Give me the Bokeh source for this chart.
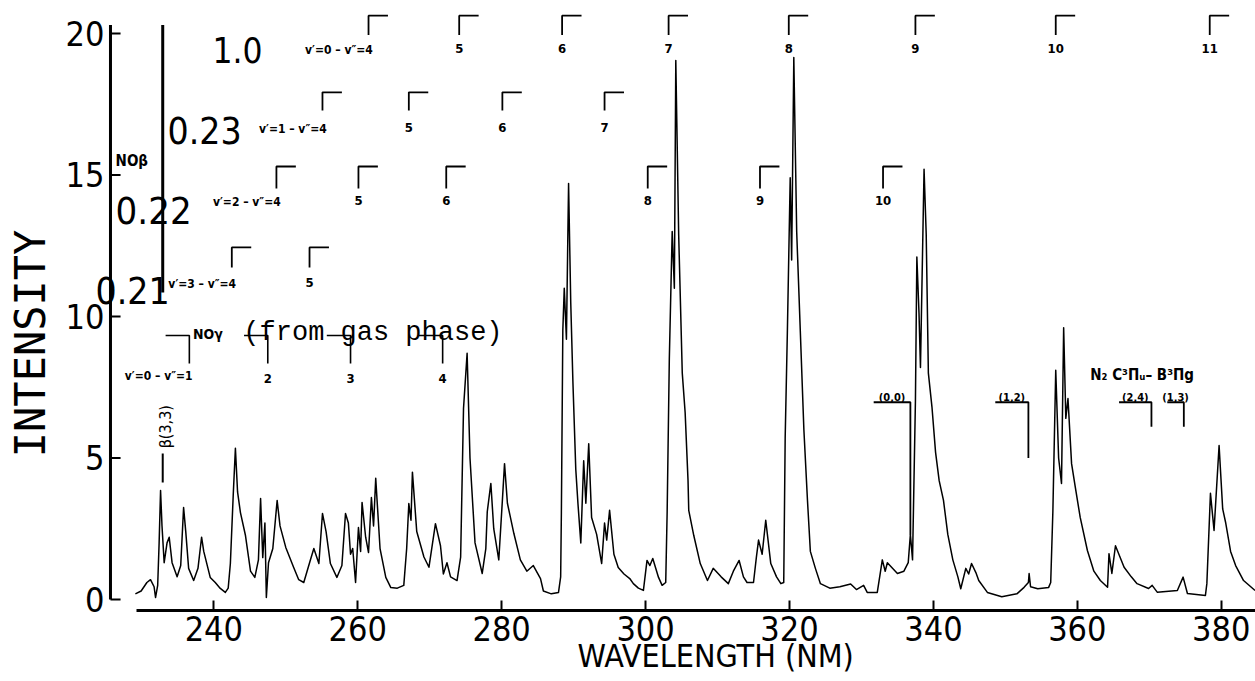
import math
from bokeh.plotting import figure
from bokeh.models import Label, FixedTicker, Range1d
from bokeh.embed import file_html
from bokeh.resources import INLINE

# ---------------- data ----------------
wavelength = [
    229.1, 229.9, 230.7, 231.2, 231.7, 231.9, 232.2, 232.4, 232.6, 232.8, 233.1, 233.5, 233.8, 234.2,
    234.9, 235.4, 235.8, 236.1, 236.5, 237.2, 237.8, 238.3, 238.6, 239.5, 240.2, 240.9, 241.6, 242.0,
    242.3, 242.7, 243.0, 243.3, 243.7, 244.4, 245.1, 245.7, 246.2, 246.5, 246.8, 247.1, 247.3, 247.6,
    248.2, 248.8, 249.2, 250.0, 251.1, 251.8, 252.5, 253.4, 253.9, 254.6, 255.1, 255.6, 256.2, 257.1,
    257.8, 258.3, 258.7, 259.0, 259.3, 259.7, 260.1, 260.4, 260.6, 261.1, 261.5, 261.9, 262.2, 262.5,
    263.1, 263.9, 264.6, 265.5, 266.4, 266.8, 267.1, 267.4, 267.6, 268.2, 269.2, 269.9, 270.8, 271.5,
    271.9, 272.4, 272.9, 273.8, 274.3, 274.7, 275.2, 275.6, 276.3, 277.3, 277.8, 278.0, 278.5, 278.9,
    279.6, 280.1, 280.4, 280.8, 281.7, 282.6, 283.5, 284.4, 285.4, 285.8, 286.9, 287.9, 288.2, 288.3,
    288.5, 288.7, 289.0, 289.3, 289.6, 289.9, 290.3, 290.6, 291.0, 291.4, 291.7, 292.1, 292.5, 293.2,
    293.9, 294.3, 294.6, 295.0, 295.6, 296.2, 297.0, 297.8, 298.3, 299.0, 299.7, 300.2, 300.6, 301.0,
    301.8, 302.3, 302.8, 303.0, 303.3, 303.7, 304.0, 304.2, 304.6, 305.1, 305.5, 305.9, 306.0, 306.7,
    307.6, 308.6, 309.4, 310.5, 311.5, 312.2, 313.0, 313.6, 314.1, 315.0, 315.4, 315.7, 316.2, 316.7,
    317.4, 318.2, 318.8, 319.2, 319.4, 319.7, 320.1, 320.3, 320.6, 321.0, 321.5, 322.0, 322.5, 322.9,
    323.6, 324.3, 325.6, 327.0, 328.5, 329.3, 330.3, 330.8, 332.2, 332.9, 333.3, 333.6, 335.0, 335.9,
    336.5, 336.8, 337.1, 337.5, 337.7, 338.0, 338.2, 338.7, 339.0, 339.3, 339.8, 340.3, 340.8, 341.4,
    342.0, 342.7, 343.4, 343.8, 344.5, 344.9, 345.3, 345.9, 346.3, 347.5, 349.5, 351.6, 352.6, 353.2,
    353.3, 353.5, 354.5, 356.0, 356.3, 356.6, 357.0, 357.4, 357.8, 358.1, 358.4, 358.7, 359.2, 359.7,
    360.4, 361.4, 362.3, 363.2, 364.2, 364.4, 364.8, 365.3, 366.5, 367.5, 368.3, 369.9, 370.4, 371.1,
    373.9, 374.7, 375.3, 377.8, 378.0, 378.5, 379.0, 379.7, 380.2, 380.6, 381.3, 382.0, 383.1, 384.7,
]
intensity = [
    0.20, 0.30, 0.60, 0.70, 0.45, 0.07, 0.50, 2.00, 3.85, 2.60, 1.30, 2.00, 2.20, 1.30,
    0.80, 1.20, 3.25, 2.40, 1.10, 0.67, 1.10, 2.20, 1.70, 0.78, 0.60, 0.39, 0.25, 0.40,
    1.27, 3.70, 5.34, 3.80, 3.07, 2.26, 1.00, 0.78, 1.40, 3.57, 1.48, 2.70, 0.07, 1.30,
    1.80, 3.50, 2.60, 1.84, 1.13, 0.70, 0.60, 1.38, 1.80, 1.27, 3.04, 2.40, 1.27, 0.78,
    1.20, 3.04, 2.70, 1.60, 1.80, 0.60, 2.54, 1.70, 3.43, 2.20, 1.66, 3.60, 2.60, 4.28,
    1.80, 0.78, 0.42, 0.40, 0.50, 1.80, 3.39, 2.80, 4.50, 2.40, 1.50, 1.14, 2.68, 1.90,
    0.90, 1.30, 0.80, 0.67, 1.50, 6.75, 8.70, 5.00, 2.00, 0.92, 1.80, 3.10, 4.10, 2.50,
    1.40, 3.50, 4.80, 3.40, 2.33, 1.40, 1.00, 1.20, 0.74, 0.30, 0.20, 0.25, 0.80, 3.07,
    9.50, 11.00, 9.20, 14.70, 10.50, 7.70, 4.60, 3.40, 2.00, 4.90, 3.40, 5.50, 2.90, 2.30,
    1.27, 2.70, 2.10, 3.15, 1.60, 1.13, 0.90, 0.74, 0.56, 0.40, 0.32, 1.38, 1.20, 1.45,
    0.78, 0.50, 0.60, 3.10, 8.50, 13.00, 11.00, 19.05, 12.90, 8.00, 6.60, 4.20, 3.15, 2.26,
    1.27, 0.67, 1.10, 0.80, 0.56, 1.00, 1.38, 0.80, 0.60, 0.60, 1.50, 2.10, 1.60, 2.80,
    1.27, 0.80, 0.56, 0.60, 5.70, 9.40, 14.90, 12.00, 19.15, 13.00, 9.50, 6.00, 3.50, 1.70,
    1.10, 0.56, 0.40, 0.45, 0.55, 0.35, 0.50, 0.25, 0.25, 1.40, 1.00, 1.30, 0.92, 1.00,
    1.30, 2.30, 1.40, 7.00, 12.10, 10.10, 8.20, 15.20, 12.90, 8.00, 6.80, 5.20, 4.20, 3.50,
    2.30, 1.40, 0.80, 0.38, 1.10, 0.90, 1.27, 0.95, 0.67, 0.25, 0.10, 0.20, 0.43, 0.60,
    0.92, 0.45, 0.38, 0.42, 0.60, 3.10, 8.10, 5.00, 4.10, 9.60, 6.40, 7.10, 4.80, 4.00,
    2.90, 1.73, 1.00, 0.67, 0.43, 1.62, 0.92, 1.90, 1.14, 0.80, 0.56, 0.39, 0.50, 0.26,
    0.32, 0.79, 0.21, 0.14, 0.56, 3.75, 2.44, 5.44, 3.20, 2.73, 1.70, 1.20, 0.67, 0.32,
]

x_ticks = [240, 260, 280, 300, 320, 340, 360, 380]
y_ticks = [0, 5, 10, 15, 20]

# NO beta progressions v'=0..3 (band positions in nm) and relative intensities
nob_v0_bands = [261.5, 274.1, 288.4, 303.2, 319.9, 337.5, 357.0, 378.4]
nob_v0_labels = ["4", "5", "6", "7", "8", "9", "10", "11"]
nob_v1_bands = [255.1, 267.1, 280.1, 294.3]
nob_v1_labels = ["4", "5", "6", "7"]
nob_v2_bands = [248.7, 260.1, 272.3, 300.3, 315.9, 333.0]
nob_v2_labels = ["4", "5", "6", "8", "9", "10"]
nob_v3_bands = [242.5, 253.3]
nob_v3_labels = ["4", "5"]
nob_factors = ["1.0", "0.23", "0.22", "0.21"]

# NO gamma (from gas phase) v'=0 -> v''=1..4
nog_bands = [236.6, 247.5, 259.0, 271.8]
nog_labels = ["1", "2", "3", "4"]

# N2 C-B bands
n2_bands = [336.8, 353.2, 370.3, 374.8]
n2_labels = ["(0,0)", "(1,2)", "(2,4)", "(1,3)"]
n2_widths = [5.1, 4.6, 4.5, 2.3]
n2_tail_bottom = [2.3, 5.0, 6.1, 6.1]

# ---------------- figure ----------------
FONT = "DejaVu Sans Condensed"
NBSP = "\u00a0"
Y_AXIS_X = 225.64          # where the drawn intensity axis sits
p = figure(width=1255, height=681, output_backend="svg", toolbar_location=None,
           x_range=Range1d(223.28, 384.76), y_range=Range1d(-0.389, 21.166),
           min_border_left=93, min_border_right=0, min_border_top=0, min_border_bottom=71)
p.outline_line_color = None
p.grid.visible = False
p.background_fill_color = "white"
p.border_fill_color = "white"

xa = p.xaxis[0]
xa.ticker = FixedTicker(ticks=x_ticks)
xa.bounds = (229.3, 384.76)
xa.axis_line_width = 3
xa.axis_line_color = "black"
xa.major_tick_in = 10
xa.major_tick_out = 0
xa.major_tick_line_width = 2
xa.minor_tick_in = 0
xa.minor_tick_out = 0
xa.major_label_standoff = 5
xa.major_label_text_font = FONT
xa.major_label_text_font_size = "34px"
xa.major_label_text_color = "black"
xa.axis_label = NBSP * 9 + "WAVELENGTH (NM)"
xa.axis_label_text_font = FONT
xa.axis_label_text_font_size = "32px"
xa.axis_label_text_font_style = "normal"
xa.axis_label_text_color = "black"
xa.axis_label_standoff = -7

ya = p.yaxis[0]
ya.ticker = FixedTicker(ticks=y_ticks)
ya.axis_line_color = None
ya.major_tick_in = 0
ya.major_tick_out = 0
ya.minor_tick_in = 0
ya.minor_tick_out = 0
ya.major_label_standoff = -11
ya.major_label_text_font = FONT
ya.major_label_text_font_size = "34px"
ya.major_label_text_color = "black"
ya.axis_label = "INTENSITY" + NBSP * 3
ya.axis_label_text_font = "DejaVu Sans Mono"
ya.axis_label_text_font_size = "42px"
ya.axis_label_text_font_style = "normal"
ya.axis_label_text_color = "black"
ya.axis_label_standoff = 8

# intensity axis line and inward ticks at the axis position
p.line([Y_AXIS_X, Y_AXIS_X], [0, 20.3], line_color="black", line_width=3)
p.segment(x0=[Y_AXIS_X] * len(y_ticks), y0=y_ticks, x1=[Y_AXIS_X + 1.4] * len(y_ticks), y1=y_ticks,
          line_color="black", line_width=2)

# spectrum
p.line(wavelength, intensity, line_color="black", line_width=1.5, line_join="round")


def lab(x, y, text, size, bold=True, font=FONT, align="left", baseline="alphabetic", angle=0.0):
    p.add_layout(Label(x=x, y=y, text=text, text_font=font, text_font_size=size,
                       text_font_style="bold" if bold else "normal", text_color="black",
                       text_align=align, text_baseline=baseline, angle=angle))


# NO beta brackets  (row: bands, labels, top, bottom, label baseline)
rows = [
    (nob_v0_bands, nob_v0_labels, 20.63, 19.95, 19.47),
    (nob_v1_bands, nob_v1_labels, 17.92, 17.28, 16.68),
    (nob_v2_bands, nob_v2_labels, 15.30, 14.52, 14.10),
    (nob_v3_bands, nob_v3_labels, 12.44, 11.73, 11.20),
]
factor_pos = [(239.82, 19.40, "35px"), (233.57, 16.57, "37px"), (226.35, 13.75, "38px"), (223.57, 10.92, "37px")]
for i, (bands, labels, top, bot, lb) in enumerate(rows):
    xs = [[b, b, b + 2.7] for b in bands]
    ys = [[bot, top, top] for _ in bands]
    p.multi_line(xs, ys, line_color="black", line_width=1.8)
    for b, t in zip(bands[1:], labels[1:]):
        lab(b, lb, t, "13px", align="center")
    lab(bands[0] + 0.6, lb - 0.05, "v\u2032=%d \u2013 v\u2033=%s" % (i, labels[0]), "12px", align="right")
    fx, fy, fs = factor_pos[i]
    lab(fx, fy, nob_factors[i], fs, bold=False)

# big vertical brace for NO beta
p.line([232.9, 232.9], [10.85, 20.3], line_color="black", line_width=3)
lab(226.35, 15.48, "NO\u03b2", "15px")

# NO gamma brackets
xs = [[b - 3.3, b, b] for b in nog_bands]
ys = [[9.33, 9.33, 8.34] for _ in nog_bands]
p.multi_line(xs, ys, line_color="black", line_width=1.6)
for b, t in zip(nog_bands[1:], nog_labels[1:]):
    lab(b, 7.81, t, "13px", align="center")
lab(nog_bands[0] + 0.45, 7.88, "v\u2032=0 \u2013 v\u2033=" + nog_labels[0], "12px", align="right")
lab(nog_bands[0] + 0.5, 9.38, "NO\u03b3", "14px")
lab(244.1, 9.42, "(from gas phase)", "27px", bold=False, font="Liberation Mono")

# beta(3,3) marker
p.line([232.9, 232.9], [4.13, 5.16], line_color="black", line_width=2)
lab(233.35, 5.34, "\u03b2(3,3)", "16px", bold=False, angle=math.pi / 2)

# N2 brackets
xs = [[b - w, b, b] for b, w in zip(n2_bands, n2_widths)]
ys = [[6.97, 6.97, bt] for bt in n2_tail_bottom]
p.multi_line(xs, ys, line_color="black", line_width=1.8)
for b, w, t in zip(n2_bands, n2_widths, n2_labels):
    lab(b - w / 2, 7.14, t, "11px", align="center")
lab(361.8, 7.92, "N\u2082 C\u00b3\u03a0\u1d64\u2013 B\u00b3\u03a0g", "15px")

open("out.html", "w").write(file_html(p, INLINE))
